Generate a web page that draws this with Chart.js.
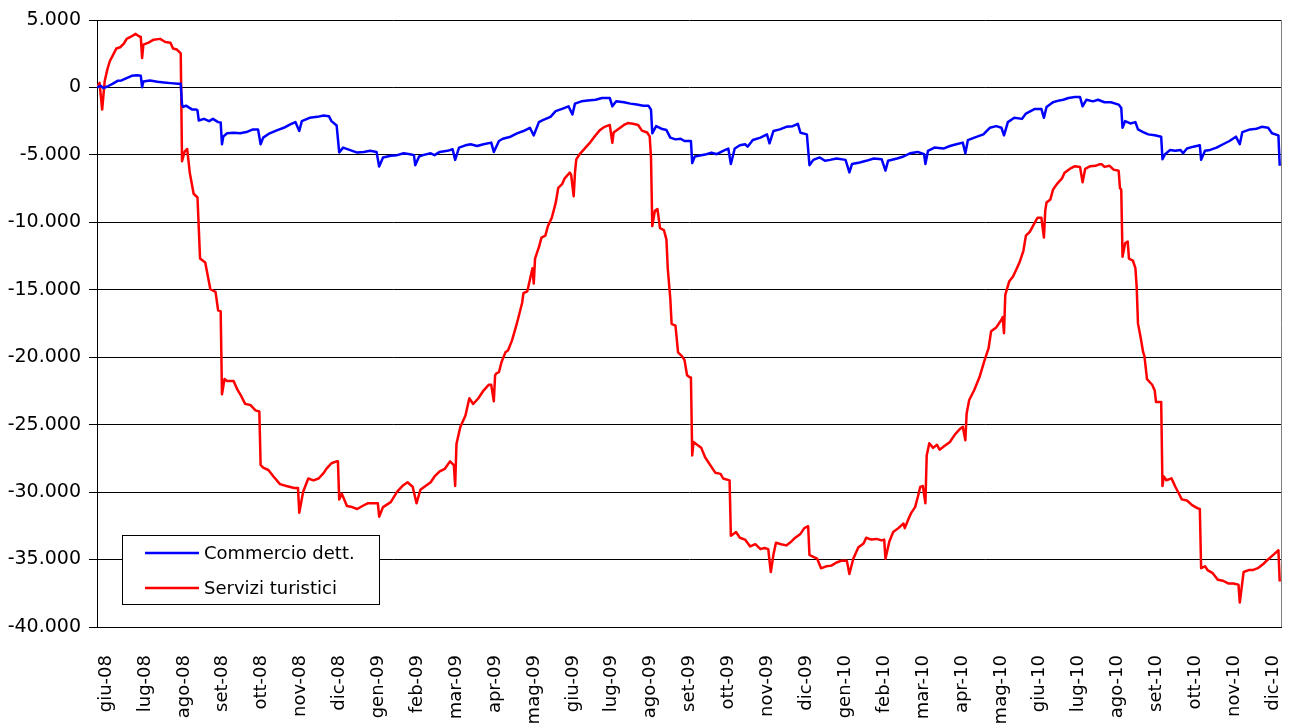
<!DOCTYPE html>
<html>
<head>
<meta charset="utf-8">
<script src="https://cdn.jsdelivr.net/npm/chart.js@4.4.0/dist/chart.umd.min.js"></script>
<style>
body{margin:0;background:#fff;}
</style>
</head>
<body>
<canvas id="grafico" width="1294" height="724"></canvas>
<script>
// giorni contati dal 1 giugno 2008
const commercioGiorni = [-5,-2,0,3,7,11,14,18,22,26,29,30,31,36,42,47,52,58,60,61,62,64,69,72,73,74,78,82,85,89,91,92,93,96,101,106,111,116,120,122,124,129,135,140,145,149,152,154,160,166,171,175,177,181,183,186,191,197,202,207,212,214,217,223,228,233,238,241,242,245,248,254,257,261,267,271,273,276,281,285,290,295,301,303,307,310,316,321,326,331,334,338,341,347,351,356,361,364,366,371,376,382,387,393,395,398,404,409,414,419,423,425,426,429,433,437,440,444,448,451,456,457,459,464,468,472,476,481,485,487,490,494,498,500,504,510,515,517,520,525,530,535,539,541,546,548,551,556,560,564,569,576,579,581,587,592,598,604,607,609,616,621,626,632,637,638,640,645,652,657,662,667,669,671,676,683,688,693,697,699,702,707,713,716,723,728,730,732,737,742,745,749,754,758,760,763,768,772,777,782,788,790,791,793,797,801,803,807,811,816,821,822,824,828,832,836,838,841,846,851,852,855,859,864,869,874,879,882,884,890,895,899,904,907,912,913];
const commercioValori = [0,120,-50,70,270,490,520,690,860,910,860,20,440,520,420,370,320,270,270,-1270,-1450,-1350,-1640,-1640,-1700,-2450,-2330,-2500,-2330,-2570,-2600,-4210,-3650,-3400,-3360,-3400,-3310,-3110,-3110,-4210,-3720,-3400,-3160,-2990,-2740,-2570,-3230,-2500,-2250,-2180,-2080,-2130,-2500,-2820,-4820,-4460,-4630,-4830,-4780,-4700,-4780,-5860,-5190,-5070,-5020,-4880,-4950,-5020,-5760,-5120,-5020,-4880,-5020,-4780,-4700,-4580,-5370,-4460,-4290,-4210,-4340,-4210,-4090,-4780,-3970,-3800,-3650,-3400,-3230,-2990,-3550,-2570,-2430,-2180,-1760,-1590,-1400,-2010,-1200,-1030,-960,-910,-780,-780,-1400,-1030,-1100,-1200,-1270,-1350,-1350,-1640,-3400,-2870,-3060,-3160,-3720,-3850,-3800,-3970,-3970,-5610,-5120,-5020,-4950,-4830,-4950,-4700,-4530,-5680,-4530,-4290,-4210,-4390,-3900,-3720,-3480,-4140,-3230,-3110,-2920,-2870,-2700,-3360,-3480,-5760,-5370,-5190,-5440,-5370,-5270,-5370,-6300,-5680,-5560,-5440,-5270,-5320,-6170,-5440,-5270,-5120,-4880,-4780,-4950,-5680,-4700,-4460,-4530,-4340,-4210,-4090,-4880,-3900,-3720,-3480,-2990,-2870,-2990,-3550,-2570,-2250,-2330,-1940,-1590,-1590,-2250,-1450,-1100,-960,-910,-780,-710,-710,-1400,-910,-1030,-910,-1100,-1100,-1270,-1520,-2990,-2500,-2670,-2570,-3110,-3310,-3480,-3550,-3650,-5320,-4950,-4630,-4700,-4630,-4880,-4530,-4390,-4290,-5370,-4700,-4630,-4460,-4210,-3970,-3650,-4210,-3310,-3110,-3060,-2920,-2990,-3400,-3550,-5810];

const turisticiGiorni = [-5,-3,-1,1,3,5,7,10,13,16,18,21,25,27,29,30,31,35,39,44,48,52,54,57,60,61,63,65,67,70,73,75,79,83,87,89,91,92,94,96,101,104,107,110,114,118,121,122,124,128,132,137,142,148,151,152,155,159,163,167,171,173,177,181,182,183,185,189,193,197,201,205,210,213,214,217,223,228,232,236,240,243,246,250,254,257,261,265,269,272,273,274,277,281,284,287,291,295,299,301,303,304,305,307,309,312,314,317,320,322,325,326,329,331,333,334,335,338,340,343,345,348,351,353,356,358,362,363,365,366,367,370,374,378,382,385,389,393,395,396,400,404,407,411,415,418,422,424,425,426,428,430,432,435,437,438,440,441,444,446,449,451,453,455,456,457,458,460,464,467,471,475,479,481,486,487,489,491,494,498,502,506,510,513,516,518,520,522,526,530,534,537,541,544,547,548,551,554,557,561,565,569,573,577,579,582,586,590,592,596,600,604,606,607,610,613,617,621,622,625,627,630,632,634,636,638,639,641,644,647,649,653,657,661,665,667,669,670,672,676,680,684,687,689,693,697,698,699,700,703,706,709,711,714,716,719,723,725,728,730,731,732,735,737,740,744,746,750,754,758,760,762,766,770,773,775,777,781,784,788,789,790,791,793,795,796,799,801,802,803,805,807,808,810,814,816,817,821,822,823,825,829,832,834,837,841,845,849,851,852,855,857,861,865,869,873,877,881,882,885,889,892,896,900,903,908,912,913];
const turisticiValori = [0,340,-1640,480,1330,1960,2320,2890,2980,3260,3600,3740,3970,3830,3740,2180,3170,3320,3540,3600,3370,3320,2890,2810,2520,-5470,-4760,-4560,-6320,-7880,-8160,-12690,-12980,-14960,-15160,-16520,-16600,-22750,-21620,-21760,-21760,-22410,-22890,-23460,-23540,-23940,-24020,-27990,-28190,-28360,-28840,-29410,-29550,-29690,-29690,-31530,-29970,-28990,-29130,-28990,-28570,-28280,-27860,-27720,-27720,-30550,-30120,-31030,-31110,-31250,-31030,-30830,-30830,-30830,-31820,-31110,-30740,-29970,-29550,-29270,-29600,-30830,-29830,-29550,-29270,-28840,-28470,-28270,-27720,-28000,-29550,-26440,-25170,-24320,-23040,-23470,-23040,-22470,-22050,-22050,-23270,-21340,-21190,-21100,-20350,-19640,-19500,-18790,-17800,-17090,-15960,-15250,-15110,-14260,-13400,-14540,-12690,-11840,-11130,-10990,-10280,-9660,-8580,-7450,-7170,-6740,-6320,-6460,-8070,-6320,-5330,-4900,-4480,-4050,-3540,-3200,-2920,-2780,-4110,-3340,-3060,-2780,-2640,-2690,-2780,-3200,-3340,-3630,-5180,-10280,-9150,-9010,-10430,-10570,-11280,-13400,-15680,-17520,-17660,-19640,-19920,-20210,-21340,-21480,-21500,-27280,-26290,-26430,-26720,-27420,-28000,-28570,-28650,-28990,-29130,-33240,-33100,-32960,-33380,-33520,-34030,-33860,-34230,-34140,-34230,-35930,-34650,-33750,-33860,-33950,-33660,-33380,-33100,-32670,-32530,-34650,-34800,-34940,-35650,-35500,-35450,-35220,-35080,-35080,-36070,-34940,-34090,-33810,-33380,-33520,-33470,-33580,-33520,-34940,-33660,-32960,-32670,-32330,-32670,-31960,-31540,-31110,-30400,-29610,-29550,-30830,-27280,-26380,-26720,-26490,-26860,-26570,-26290,-25720,-25300,-25160,-26150,-24170,-23170,-22410,-21470,-20200,-19350,-18070,-17790,-17220,-17030,-18220,-15380,-14390,-14020,-13400,-12980,-12130,-10990,-10710,-10000,-9660,-9660,-11130,-9150,-8530,-8300,-7590,-7170,-6740,-6320,-6040,-5840,-5890,-7030,-6040,-5840,-5810,-5700,-5700,-5890,-5810,-6090,-6180,-7450,-7590,-12550,-11560,-11420,-12690,-12830,-13400,-14820,-17510,-18500,-19630,-19920,-21620,-22040,-22470,-23320,-23320,-29550,-28840,-29120,-28980,-29600,-29970,-30540,-30620,-30960,-31190,-31250,-35640,-35500,-35780,-36010,-36490,-36570,-36770,-36770,-36860,-38190,-35920,-35780,-35780,-35640,-35350,-35070,-34650,-34310,-36630];

const mesi = ['giu-08','lug-08','ago-08','set-08','ott-08','nov-08','dic-08','gen-09','feb-09','mar-09','apr-09','mag-09','giu-09','lug-09','ago-09','set-09','ott-09','nov-09','dic-09','gen-10','feb-10','mar-10','apr-10','mag-10','giu-10','lug-10','ago-10','set-10','ott-10','nov-10','dic-10'];
const primaEtichetta = 2;
const passoEtichette = 30.2;

function formatta(v) {
  const s = String(Math.abs(v)).replace(/\B(?=(\d{3})+(?!\d))/g, '.');
  return v < 0 ? '-' + s : s;
}

const famiglia = '"DejaVu Sans", Verdana, sans-serif';

const legendaInterna = {
  id: 'legendaInterna',
  afterDatasetsDraw(chart) {
    const ctx = chart.ctx, a = chart.chartArea;
    // bordo destro grigio dell'area del grafico
    ctx.save();
    ctx.strokeStyle = '#808080';
    ctx.lineWidth = 1;
    ctx.beginPath();
    ctx.moveTo(a.right + 0.5, a.top);
    ctx.lineTo(a.right + 0.5, a.bottom);
    ctx.stroke();
    // legenda dentro il grafico
    const x = a.left + 25, y = a.bottom - 92, w = 257, h = 69;
    ctx.fillStyle = '#fff';
    ctx.fillRect(x, y, w, h);
    ctx.strokeStyle = '#000';
    ctx.strokeRect(x + 0.5, y + 0.5, w, h);
    chart.data.datasets.forEach(function(ds, i) {
      const ly = y + 18 + i * 35;
      ctx.strokeStyle = ds.borderColor;
      ctx.lineWidth = 2.5;
      ctx.beginPath();
      ctx.moveTo(x + 23, ly);
      ctx.lineTo(x + 77, ly);
      ctx.stroke();
      ctx.fillStyle = '#000';
      ctx.font = '18px ' + famiglia;
      ctx.textBaseline = 'middle';
      ctx.fillText(ds.label, x + 82, ly + 1);
    });
    ctx.restore();
  }
};

const punti = (g, v) => g.map((d, i) => ({x: d, y: v[i]}));

new Chart(document.getElementById('grafico'), {
  type: 'line',
  data: {
    datasets: [
      {label: 'Commercio dett.', data: punti(commercioGiorni, commercioValori), borderColor: '#0000ff', borderWidth: 2.5, pointRadius: 0, tension: 0, borderJoinStyle: 'round'},
      {label: 'Servizi turistici', data: punti(turisticiGiorni, turisticiValori), borderColor: '#ff0000', borderWidth: 2.5, pointRadius: 0, tension: 0, borderJoinStyle: 'round'}
    ]
  },
  options: {
    responsive: false,
    animation: false,
    devicePixelRatio: 1,
    events: [],
    layout: {padding: {top: 20, right: 13, left: 0, bottom: 0}},
    plugins: {legend: {display: false}, tooltip: {enabled: false}},
    scales: {
      x: {
        type: 'linear',
        min: -5,
        max: 914,
        grid: {display: false, drawTicks: false},
        border: {display: true, color: '#000', width: 1},
        afterBuildTicks: function(s) {
          s.ticks = mesi.map((m, i) => ({value: primaEtichetta + i * passoEtichette}));
        },
        afterFit: function(s) {
          s.height = 97;
          s.paddingLeft = 0;
          s.paddingRight = 0;
        },
        ticks: {
          autoSkip: false, minRotation: 90, maxRotation: 90, padding: 28,
          color: '#000', font: {family: famiglia, size: 18},
          callback: (v, i) => mesi[i]
        }
      },
      y: {
        min: -40000,
        max: 5000,
        grid: {color: '#000', lineWidth: 1, tickLength: 8, drawTicks: true},
        border: {display: true, color: '#000', width: 1},
        afterFit: function(s) { s.width = 97; },
        ticks: {stepSize: 5000, padding: 8, color: '#000', font: {family: famiglia, size: 19}, callback: v => formatta(v)}
      }
    }
  },
  plugins: [legendaInterna]
});
</script>
</body>
</html>
